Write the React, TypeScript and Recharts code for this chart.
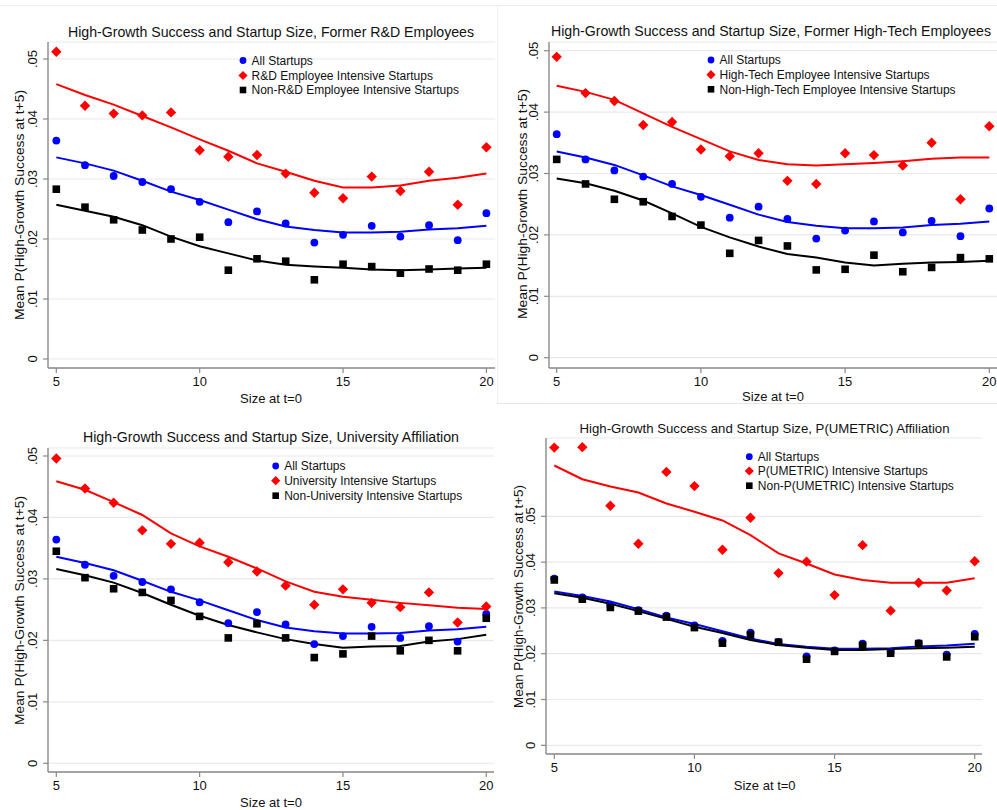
import React from "react";
import { ComposedChart, Line, Scatter, XAxis, YAxis, CartesianGrid } from "recharts";

// ---------- data ----------
const sizes = [5, 6, 7, 8, 9, 10, 11, 12, 13, 14, 15, 16, 17, 18, 19, 20];
const xTicks = [5, 10, 15, 20];

const allStartups = [0.0364, 0.0323, 0.0305, 0.0295, 0.0283, 0.0262, 0.0228, 0.0246, 0.0226, 0.0194, 0.0207, 0.0222, 0.0204, 0.0223, 0.0198, 0.0243];
const allStartupsFit = [0.0336, 0.0326, 0.0314, 0.0297, 0.0279, 0.0265, 0.0249, 0.0233, 0.0221, 0.0215, 0.0211, 0.0211, 0.0212, 0.0216, 0.0218, 0.0222];

const rdIntensive = [0.0512, 0.0422, 0.0409, 0.0406, 0.0411, 0.0348, 0.0337, 0.034, 0.0309, 0.0277, 0.0268, 0.0304, 0.028, 0.0312, 0.0257, 0.0353];
const rdIntensiveFit = [0.0458, 0.044, 0.0424, 0.0405, 0.0386, 0.0366, 0.0347, 0.0326, 0.0312, 0.0297, 0.0286, 0.0286, 0.0289, 0.0297, 0.0302, 0.0309];
const nonRd = [0.0283, 0.0253, 0.0232, 0.0215, 0.02, 0.0203, 0.0148, 0.0167, 0.0163, 0.0132, 0.0158, 0.0154, 0.0143, 0.015, 0.0148, 0.0158];
const nonRdFit = [0.0257, 0.0247, 0.0237, 0.0223, 0.0204, 0.0188, 0.0176, 0.0164, 0.0157, 0.0154, 0.0152, 0.0149, 0.0148, 0.0149, 0.0151, 0.0152];

const hiTech = [0.049, 0.0431, 0.0418, 0.0379, 0.0384, 0.0339, 0.0328, 0.0333, 0.0288, 0.0283, 0.0333, 0.033, 0.0313, 0.035, 0.0258, 0.0377];
const hiTechFit = [0.0443, 0.0433, 0.042, 0.0398, 0.0376, 0.0356, 0.0336, 0.0322, 0.0315, 0.0313, 0.0315, 0.0317, 0.032, 0.0324, 0.0326, 0.0326];
const nonHiTech = [0.0323, 0.0283, 0.0258, 0.0254, 0.023, 0.0216, 0.017, 0.0191, 0.0182, 0.0143, 0.0144, 0.0167, 0.014, 0.0147, 0.0163, 0.0161];
const nonHiTechFit = [0.0292, 0.0284, 0.0272, 0.0256, 0.0235, 0.0213, 0.0196, 0.0181, 0.0169, 0.0163, 0.0155, 0.015, 0.0153, 0.0155, 0.0156, 0.0158];

const univ = [0.0496, 0.0447, 0.0424, 0.0379, 0.0357, 0.0359, 0.0327, 0.0312, 0.0289, 0.0258, 0.0283, 0.0261, 0.0254, 0.0278, 0.0229, 0.0255];
const univFit = [0.0459, 0.0445, 0.0425, 0.0404, 0.0374, 0.0353, 0.0336, 0.0317, 0.0296, 0.0279, 0.0271, 0.0266, 0.0261, 0.0257, 0.0253, 0.0251];
const nonUniv = [0.0345, 0.0302, 0.0284, 0.0278, 0.0265, 0.0239, 0.0204, 0.0227, 0.0204, 0.0172, 0.0178, 0.0207, 0.0183, 0.02, 0.0183, 0.0236];
const nonUnivFit = [0.0316, 0.0306, 0.0294, 0.0277, 0.0258, 0.024, 0.0225, 0.0213, 0.0202, 0.0194, 0.0188, 0.019, 0.0191, 0.0198, 0.0202, 0.0209];

const umetric = [0.065, 0.0651, 0.0523, 0.044, 0.0597, 0.0566, 0.0427, 0.0497, 0.0376, 0.0401, 0.0328, 0.0437, 0.0294, 0.0355, 0.0338, 0.0402];
const umetricFit = [0.0611, 0.0581, 0.0565, 0.0552, 0.0528, 0.051, 0.0491, 0.0459, 0.0419, 0.0397, 0.0373, 0.0361, 0.0355, 0.0355, 0.0355, 0.0365];
const nonUmetric = [0.0361, 0.0319, 0.0301, 0.0293, 0.028, 0.0257, 0.0223, 0.0241, 0.0225, 0.0188, 0.0205, 0.0218, 0.0201, 0.0222, 0.0193, 0.0237];
const nonUmetricFit = [0.0332, 0.0322, 0.0309, 0.0293, 0.0276, 0.0259, 0.0245, 0.023, 0.0219, 0.0213, 0.0208, 0.0208, 0.021, 0.0212, 0.0213, 0.0215];

const yTicks = [0, 0.01, 0.02, 0.03, 0.04, 0.05];

// ---------- layout ----------
const W = 997;
const H = 810;
const FONT = '"Liberation Sans", Arial, Helvetica, sans-serif';
const AXIS = "#8a8a8a";
const GRID = "#e9e9e9";

type Panel = {
  title: string;
  titleX: number;
  titleY: number;
  titleLen: number;
  titleSize: number;
  hiLabel: string;
  loLabel: string;
  hi: number[];
  hiFit: number[];
  lo: number[];
  loFit: number[];
  plotLeft: number;
  plotRight: number;
  plotTop: number;
  plotBottom: number;
  xDomain: [number, number];
  yDomain: [number, number];
  legendX: number;
  legendY: number[];
  yTitleX: number;
  yTitleY: number;
  yTitleLen: number;
  xTitleX: number;
  xTitleY: number;
};

const panels: Panel[] = [
  {
    title: "High-Growth Success and Startup Size, Former R&D Employees",
    titleX: 271, titleY: 36.5, titleLen: 406, titleSize: 15,
    hiLabel: "R&D Employee Intensive Startups",
    loLabel: "Non-R&D Employee Intensive Startups",
    hi: rdIntensive, hiFit: rdIntensiveFit, lo: nonRd, loFit: nonRdFit,
    plotLeft: 48, plotRight: 495, plotTop: 42, plotBottom: 368,
    xDomain: [4.71, 20.3], yDomain: [-0.0015, 0.05283],
    legendX: 243, legendY: [60.5, 75.5, 90],
    yTitleX: 24, yTitleY: 205, yTitleLen: 230,
    xTitleX: 271, xTitleY: 403,
  },
  {
    title: "High-Growth Success and Startup Size, Former High-Tech Employees",
    titleX: 771, titleY: 35.5, titleLen: 440, titleSize: 14,
    hiLabel: "High-Tech Employee Intensive Startups",
    loLabel: "Non-High-Tech Employee Intensive Startups",
    hi: hiTech, hiFit: hiTechFit, lo: nonHiTech, loFit: nonHiTechFit,
    plotLeft: 549, plotRight: 997, plotTop: 42, plotBottom: 368,
    xDomain: [4.733, 20.267], yDomain: [-0.00168, 0.05142],
    legendX: 711, legendY: [60, 74.7, 89.3],
    yTitleX: 527, yTitleY: 204, yTitleLen: 230,
    xTitleX: 773, xTitleY: 400.5,
  },
  {
    title: "High-Growth Success and Startup Size, University Affiliation",
    titleX: 271, titleY: 441.5, titleLen: 376, titleSize: 14,
    hiLabel: "University Intensive Startups",
    loLabel: "Non-University Intensive Startups",
    hi: univ, hiFit: univFit, lo: nonUniv, loFit: nonUnivFit,
    plotLeft: 48, plotRight: 494, plotTop: 448, plotBottom: 772,
    xDomain: [4.71, 20.27], yDomain: [-0.00142, 0.0513],
    legendX: 275.7, legendY: [466, 480.7, 495.7],
    yTitleX: 24, yTitleY: 610.5, yTitleLen: 229,
    xTitleX: 271, xTitleY: 806.5,
  },
  {
    title: "High-Growth Success and Startup Size, P(UMETRIC) Affiliation",
    titleX: 764.5, titleY: 433, titleLen: 370, titleSize: 13.5,
    hiLabel: "P(UMETRIC) Intensive Startups",
    loLabel: "Non-P(UMETRIC) Intensive Startups",
    hi: umetric, hiFit: umetricFit, lo: nonUmetric, loFit: nonUmetricFit,
    plotLeft: 546, plotRight: 982, plotTop: 438, plotBottom: 754,
    xDomain: [4.704, 20.26], yDomain: [-0.0019, 0.0671],
    legendX: 749.3, legendY: [456.7, 471, 485.7],
    yTitleX: 523, yTitleY: 596.5, yTitleLen: 223,
    xTitleX: 764.7, xTitleY: 790,
  },
];

const fmtY = (v: number) => (v === 0 ? "0" : v.toFixed(2).replace(/^0/, ""));

const YTick = (props: any) => {
  const { x, y, payload } = props;
  return (
    <text
      x={x}
      y={y}
      transform={`rotate(-90, ${x}, ${y})`}
      textAnchor="middle"
      fontSize={13}
      fill="#111"
      fontFamily={FONT}
    >
      {fmtY(payload.value)}
    </text>
  );
};

const Circle = (props: any) => {
  const { cx, cy } = props;
  if (cx == null || cy == null) return null;
  return <circle cx={cx} cy={cy} r={3.9} fill="#0000ff" />;
};
const Diamond = (props: any) => {
  const { cx, cy } = props;
  if (cx == null || cy == null) return null;
  const s = 5.2;
  return <polygon points={`${cx},${cy - s} ${cx + s},${cy} ${cx},${cy + s} ${cx - s},${cy}`} fill="#ff0000" />;
};
const Square = (props: any) => {
  const { cx, cy } = props;
  if (cx == null || cy == null) return null;
  const s = 3.8;
  return <rect x={cx - s} y={cy - s} width={2 * s} height={2 * s} fill="#000000" />;
};

const PanelChart = ({ p }: { p: Panel }) => {
  const rows = sizes.map((x, i) => ({
    x,
    all: allStartups[i],
    allFit: allStartupsFit[i],
    hi: p.hi[i],
    hiFit: p.hiFit[i],
    lo: p.lo[i],
    loFit: p.loFit[i],
  }));
  const yW = 40;
  const xH = 30;
  return (
    <div style={{ position: "absolute", left: 0, top: 0, width: W, height: H }}>
      <ComposedChart
        width={W}
        height={H}
        data={rows}
        margin={{
          top: p.plotTop,
          left: p.plotLeft - yW,
          right: W - p.plotRight,
          bottom: H - p.plotBottom - xH,
        }}
      >
        <CartesianGrid vertical={false} stroke={GRID} strokeWidth={1.2} />
        <XAxis
          type="number"
          dataKey="x"
          domain={p.xDomain}
          ticks={xTicks}
          interval={0}
          allowDataOverflow
          height={xH}
          tickSize={5}
          tickMargin={4}
          axisLine={{ stroke: AXIS, strokeWidth: 1.4 }}
          tickLine={{ stroke: AXIS, strokeWidth: 1.2 }}
          tick={{ fill: "#111", fontSize: 13, fontFamily: FONT }}
        />
        <YAxis
          type="number"
          domain={p.yDomain}
          ticks={yTicks}
          interval={0}
          allowDataOverflow
          width={yW}
          tickSize={5}
          tickMargin={6}
          axisLine={{ stroke: AXIS, strokeWidth: 1.4 }}
          tickLine={{ stroke: AXIS, strokeWidth: 1.2 }}
          tick={<YTick />}
        />
        <Scatter dataKey="all" shape={<Circle />} isAnimationActive={false} />
        <Scatter dataKey="hi" shape={<Diamond />} isAnimationActive={false} />
        <Scatter dataKey="lo" shape={<Square />} isAnimationActive={false} />
        <Line type="linear" dataKey="hiFit" stroke="#ff0000" strokeWidth={2} dot={false} isAnimationActive={false} />
        <Line type="linear" dataKey="allFit" stroke="#0000ff" strokeWidth={2} dot={false} isAnimationActive={false} />
        <Line type="linear" dataKey="loFit" stroke="#000000" strokeWidth={2} dot={false} isAnimationActive={false} />
      </ComposedChart>
    </div>
  );
};

const Overlay = () => (
  <svg
    width={W}
    height={H}
    style={{ position: "absolute", left: 0, top: 0, pointerEvents: "none" }}
    fontFamily={FONT}
  >
    {/* faint panel borders */}
    <line x1={0} y1={5.5} x2={497} y2={5.5} stroke="#f0f0f0" />
    <line x1={497} y1={5.5} x2={997} y2={5.5} stroke="#ececec" />
    <line x1={497.5} y1={5} x2={497.5} y2={403} stroke="#efefef" />
    <line x1={497} y1={403.5} x2={997} y2={403.5} stroke="#e6e6e6" />
    {panels.map((p, k) => (
      <g key={k}>
        <text
          x={p.titleX}
          y={p.titleY}
          textAnchor="middle"
          fontSize={p.titleSize}
          fill="#111"
          textLength={p.titleLen}
          lengthAdjust="spacingAndGlyphs"
        >
          {p.title}
        </text>
        <text
          transform={`translate(${p.yTitleX}, ${p.yTitleY}) rotate(-90)`}
          textAnchor="middle"
          fontSize={13.5}
          fill="#111"
          textLength={p.yTitleLen}
          lengthAdjust="spacingAndGlyphs"
        >
          Mean P(High-Growth Success at t+5)
        </text>
        <text x={p.xTitleX} y={p.xTitleY} textAnchor="middle" fontSize={13} fill="#111">
          Size at t=0
        </text>
        {/* legend */}
        <circle cx={p.legendX} cy={p.legendY[0]} r={3.4} fill="#0000ff" />
        <polygon
          points={`${p.legendX},${p.legendY[1] - 4.6} ${p.legendX + 4.6},${p.legendY[1]} ${p.legendX},${p.legendY[1] + 4.6} ${p.legendX - 4.6},${p.legendY[1]}`}
          fill="#ff0000"
        />
        <rect x={p.legendX - 3.3} y={p.legendY[2] - 3.3} width={6.6} height={6.6} fill="#000" />
        <text x={p.legendX + 8.5} y={p.legendY[0] + 4.3} fontSize={12} fill="#111">All Startups</text>
        <text x={p.legendX + 8.5} y={p.legendY[1] + 4.3} fontSize={12} fill="#111">{p.hiLabel}</text>
        <text x={p.legendX + 8.5} y={p.legendY[2] + 4.3} fontSize={12} fill="#111">{p.loLabel}</text>
      </g>
    ))}
  </svg>
);

export default function App() {
  return (
    <div
      style={{
        position: "fixed",
        left: 0,
        top: 0,
        width: W,
        height: H,
        background: "#ffffff",
        overflow: "hidden",
        fontFamily: FONT,
      }}
    >
      {panels.map((p, k) => (
        <PanelChart key={k} p={p} />
      ))}
      <Overlay />
    </div>
  );
}
